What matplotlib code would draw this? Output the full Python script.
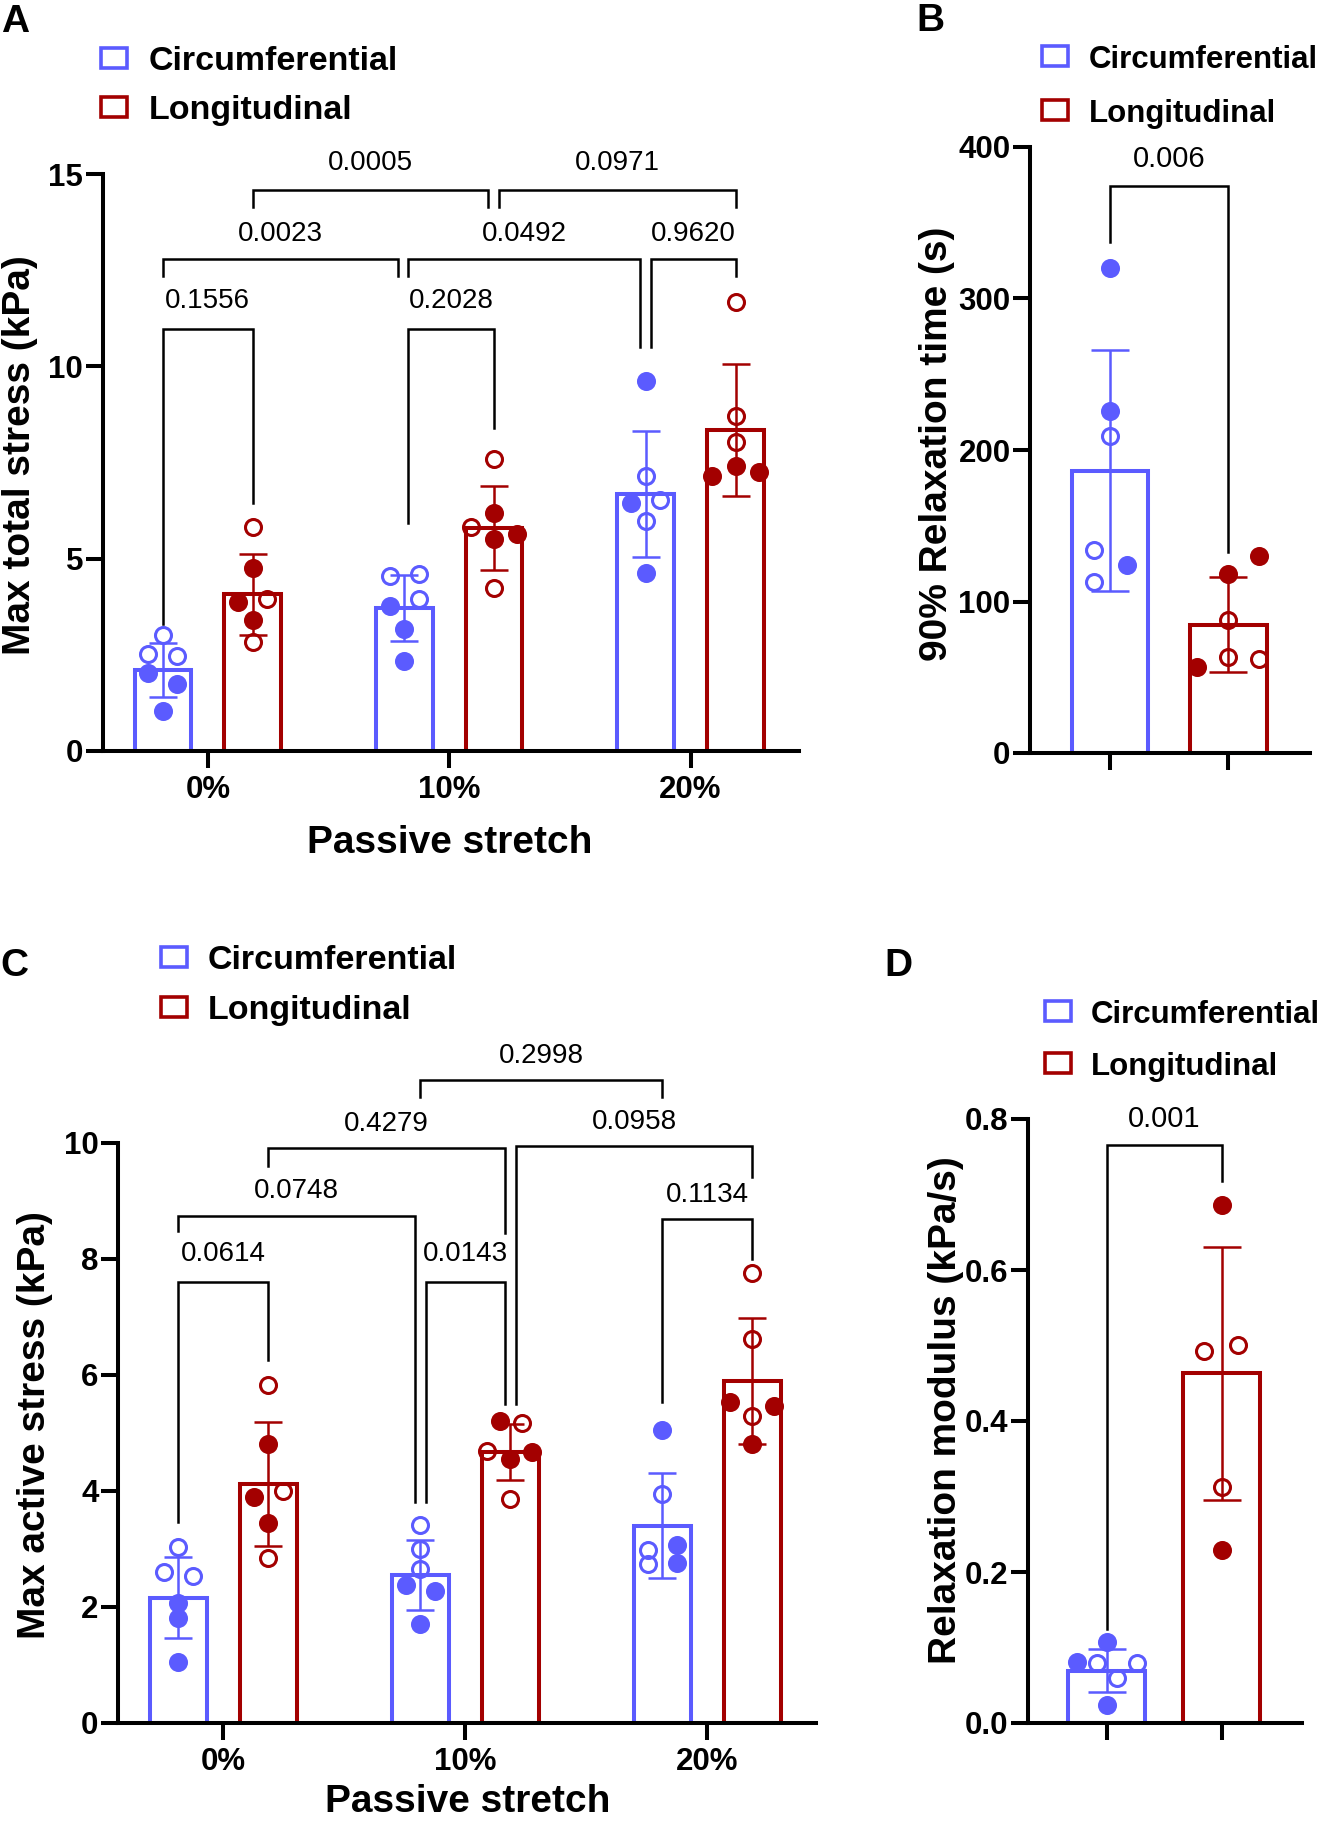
import matplotlib
matplotlib.use('Agg')
import matplotlib.pyplot as plt
from matplotlib.patches import Rectangle

plt.rcParams['font.family'] = ['Liberation Sans', 'DejaVu Sans']

# ---------------- data ----------------
stretch_labels = ['0%', '10%', '20%']
series_names = ['Circumferential', 'Longitudinal']

# Panel A: Max total stress (kPa)
A_circ_mean = [2.11, 3.71, 6.69]
A_circ_sd = [0.70, 0.86, 1.64]
A_long_mean = [4.07, 5.80, 8.35]
A_long_sd = [1.05, 1.10, 1.71]
A_circ_pts = [[3.02, 2.53, 2.47, 2.03, 1.75, 1.03],
              [4.54, 4.61, 3.76, 3.95, 3.18, 2.34],
              [9.61, 7.14, 6.44, 6.53, 5.98, 4.63]]
A_circ_filled = [[0, 0, 0, 1, 1, 1], [0, 0, 1, 0, 1, 1], [1, 0, 1, 0, 0, 1]]
A_long_pts = [[5.82, 4.77, 3.87, 3.94, 3.40, 2.84],
              [7.60, 6.19, 5.82, 5.64, 5.52, 4.23],
              [11.67, 8.71, 8.04, 7.42, 7.16, 7.25]]
A_long_filled = [[0, 1, 1, 0, 1, 0], [0, 1, 0, 1, 1, 0], [0, 0, 0, 1, 1, 1]]
A_pvals = ['0.1556', '0.2028', '0.0023', '0.0492', '0.9620', '0.0005', '0.0971']

# Panel B: 90% relaxation time (s)
B_mean = [186.4, 84.8]
B_sd = [79.5, 31.3]
B_circ_pts = [320, 226, 209.5, 134, 124, 112.7]
B_circ_filled = [1, 1, 0, 0, 1, 0]
B_long_pts = [118, 130, 87.6, 57, 63.4, 62]
B_long_filled = [1, 1, 0, 1, 0, 0]
B_pval = '0.006'

# Panel C: Max active stress (kPa)
C_circ_mean = [2.16, 2.55, 3.40]
C_circ_sd = [0.70, 0.60, 0.91]
C_long_mean = [4.12, 4.67, 5.89]
C_long_sd = [1.07, 0.49, 1.09]
C_circ_pts = [[3.03, 2.61, 2.53, 2.07, 1.81, 1.05],
              [3.42, 2.99, 2.65, 2.37, 2.27, 1.71],
              [5.04, 3.94, 2.98, 3.07, 2.74, 2.76]]
C_circ_filled = [[0, 0, 0, 1, 1, 1], [0, 0, 0, 1, 1, 1], [1, 0, 0, 1, 0, 1]]
C_long_pts = [[5.83, 4.80, 3.90, 4.00, 3.44, 2.84],
              [5.21, 5.17, 4.69, 4.55, 4.67, 3.86],
              [7.76, 6.61, 5.53, 5.46, 5.29, 4.80]]
C_long_filled = [[0, 1, 1, 0, 1, 0], [1, 0, 0, 1, 1, 0], [0, 0, 1, 1, 0, 1]]
C_pvals = ['0.0614', '0.0143', '0.1134', '0.0748', '0.4279', '0.0958', '0.2998']

# Panel D: Relaxation modulus (kPa/s)
D_mean = [0.0695, 0.463]
D_sd = [0.028, 0.168]
D_circ_pts = [0.107, 0.081, 0.079, 0.059, 0.080, 0.024]
D_circ_filled = [1, 1, 0, 0, 0, 1]
D_long_pts = [0.686, 0.493, 0.501, 0.312, 0.229]
D_long_filled = [1, 0, 0, 0, 1]
D_pval = '0.001'

# ---------------- styling / layout ----------------
W, H = 1326, 1823
BLUE = '#5B5BFF'
RED = '#A30000'
COLORS = [BLUE, RED]
OFF = [-0.186, 0.186]
JU = 0.06  # jitter unit for grouped panels
A_circ_jit = [[0, -1, 1, -1, 1, 0], [-1, 1, -1, 1, 0, 0], [0, 0, -1, 1, 0, 0]]
A_long_jit = [[0, 0, -1, 1, 0, 0], [0, 0, -1.6, 1.6, 0, 0], [0, 0, 0, 0, -1.6, 1.6]]
C_circ_jit = [[0, -1, 1, 0, 0, 0], [0, 0, 0, -1, 1, 0], [0, 0, -1, 1, -1, 1]]
C_long_jit = [[0, 0, -1, 1, 0, 0], [-0.7, 0.8, -1.6, 0, 1.5, 0], [0, 0, -1.5, 1.5, 0, 0]]
B_circ_jit = [0, 0, 0, -0.14, 0.14, -0.14]
B_long_jit = [0, 0.26, 0, -0.27, 0, 0.26]
D_circ_jit = [0, -0.26, -0.086, 0.086, 0.265, 0]
D_long_jit = [0, -0.15, 0.145, 0, 0]

MS, MEW = 11.5, 2.2
BAR_LW, ERR_LW, BR_LW = 2.9, 1.8, 1.8
SPINE_LW = 2.9

fig = plt.figure(figsize=(W / 100, H / 100), dpi=100)


def add_ax(left, right, top, bottom):
    return fig.add_axes([left / W, 1 - bottom / H, (right - left) / W, (bottom - top) / H])


def style_ax(ax, yticks, ylabels, xticks, xlabels):
    for s in ['top', 'right']:
        ax.spines[s].set_visible(False)
    for s in ['left', 'bottom']:
        ax.spines[s].set_linewidth(SPINE_LW)
    ax.set_yticks(yticks, labels=ylabels, fontsize=22.5, fontweight='bold')
    ax.set_xticks(xticks, labels=xlabels, fontsize=22.5, fontweight='bold')
    ax.tick_params(axis='y', length=12, width=SPINE_LW, pad=2)
    ax.tick_params(axis='x', length=12, width=SPINE_LW, pad=5)
    ax.patch.set_alpha(0)


def draw_points(ax, x, pts, filled, jit, color):
    for v, f, j in zip(pts, filled, jit):
        ax.plot(x + j, v, 'o', ms=MS, mew=MEW, mec=color,
                mfc=color if f else 'none', zorder=4, clip_on=False)


def draw_bar(ax, x, mean, sd, width, color, capsize):
    ax.bar(x, mean, width=width, facecolor='white', edgecolor=color,
           linewidth=BAR_LW, zorder=2)
    ax.errorbar(x, mean, yerr=sd, color=color, lw=ERR_LW, capsize=capsize,
                capthick=ERR_LW, zorder=3)


def bracket(ax, x1, x2, y, e1, e2, text, ty, fs=20):
    ax.plot([x1, x1, x2, x2], [e1, y, y, e2], color='black', lw=BR_LW,
            clip_on=False, zorder=5, solid_joinstyle='miter')
    ax.text((x1 + x2) / 2, ty, text, ha='center', va='center', fontsize=fs,
            clip_on=False)


def grouped(ax, cm, csd, cp, cf, cj, lm, lsd, lp, lf, lj):
    for g in range(3):
        series = [(cm, csd, cp, cf, cj), (lm, lsd, lp, lf, lj)]
        for s, (m, sd, p, f, j) in enumerate(series):
            x = g + OFF[s]
            draw_bar(ax, x, m[g], sd[g], 0.235, COLORS[s], 10)
            draw_points(ax, x, p[g], f[g], [v * JU for v in j[g]], COLORS[s])


def pos(g, s):
    return g + OFF[s]


def legend(box_cx, ys, text_x, fs):
    for y, color, name in zip(ys, COLORS, series_names):
        r = Rectangle(((box_cx - 13) / W, 1 - (y + 10) / H), 26 / W, 20 / H,
                      transform=fig.transFigure, facecolor='white',
                      edgecolor=color, lw=2.6)
        fig.add_artist(r)
        fig.text(text_x / W, 1 - (y + 12) / H, name, fontsize=fs,
                 fontweight='bold', ha='left', va='baseline')


def ftext(x, y, s, **kw):
    fig.text(x / W, 1 - y / H, s, **kw)


# ---------------- Panel A ----------------
axA = add_ax(102.6, 799, 174, 751)
grouped(axA, A_circ_mean, A_circ_sd, A_circ_pts, A_circ_filled, A_circ_jit,
        A_long_mean, A_long_sd, A_long_pts, A_long_filled, A_long_jit)
axA.set_xlim(-0.436, 2.449)
axA.set_ylim(0, 15)
style_ax(axA, [0, 5, 10, 15], ['0', '5', '10', '15'], [0, 1, 2], stretch_labels)
bracket(axA, pos(0, 0), pos(0, 1), 10.98, 3.3, 6.44, A_pvals[0], 11.70)
bracket(axA, pos(1, 0) + 0.017, pos(1, 1), 10.98, 5.93, 8.40, A_pvals[1], 11.70)
bracket(axA, pos(0, 0), pos(1, 0) - 0.025, 12.78, 12.34, 12.34, A_pvals[2], 13.45)
bracket(axA, pos(1, 0) + 0.017, pos(2, 0) - 0.025, 12.78, 12.34, 10.5, A_pvals[3], 13.45)
bracket(axA, pos(2, 0) + 0.021, pos(2, 1), 12.78, 10.5, 12.34, A_pvals[4], 13.45)
bracket(axA, pos(0, 1), pos(1, 1) - 0.025, 14.59, 14.14, 14.14, A_pvals[5], 15.28)
bracket(axA, pos(1, 1) + 0.021, pos(2, 1), 14.59, 14.14, 14.14, A_pvals[6], 15.28)

# ---------------- Panel B ----------------
axB = add_ax(1030, 1310, 147, 753)
draw_bar(axB, 0, B_mean[0], B_sd[0], 0.645, BLUE, 14)
draw_bar(axB, 1, B_mean[1], B_sd[1], 0.645, RED, 14)
draw_points(axB, 0, B_circ_pts, B_circ_filled, B_circ_jit, BLUE)
draw_points(axB, 1, B_long_pts, B_long_filled, B_long_jit, RED)
axB.set_xlim(-0.68, 1.69)
axB.set_ylim(0, 400)
style_ax(axB, [0, 100, 200, 300, 400], ['0', '100', '200', '300', '400'], [0, 1], ['', ''])
bracket(axB, 0, 1, 374, 337, 133, B_pval, 392, fs=21)

# ---------------- Panel C ----------------
axC = add_ax(118, 816, 1142.6, 1723)
grouped(axC, C_circ_mean, C_circ_sd, C_circ_pts, C_circ_filled, C_circ_jit,
        C_long_mean, C_long_sd, C_long_pts, C_long_filled, C_long_jit)
axC.set_xlim(-0.435, 2.45)
axC.set_ylim(0, 10)
style_ax(axC, [0, 2, 4, 6, 8, 10], ['0', '2', '4', '6', '8', '10'], [0, 1, 2], stretch_labels)
bracket(axC, pos(0, 0), pos(0, 1), 7.59, 3.46, 6.25, C_pvals[0], 8.08)
bracket(axC, pos(1, 0) + 0.026, pos(1, 1) - 0.022, 7.59, 3.80, 5.49, C_pvals[1], 8.08)
bracket(axC, pos(2, 0), pos(2, 1), 8.69, 5.53, 7.99, C_pvals[2], 9.09)
bracket(axC, pos(0, 0), pos(1, 0) - 0.022, 8.74, 8.47, 3.80, C_pvals[3], 9.17)
bracket(axC, pos(0, 1), pos(1, 1) - 0.022, 9.90, 9.60, 8.45, C_pvals[4], 10.32)
bracket(axC, pos(1, 1) + 0.026, pos(2, 1), 9.95, 5.49, 9.41, C_pvals[5], 10.35)
bracket(axC, pos(1, 0), pos(2, 0), 11.08, 10.78, 10.78, C_pvals[6], 11.50)

# ---------------- Panel D ----------------
axD = add_ax(1028, 1302, 1119, 1723)
draw_bar(axD, 0, D_mean[0], D_sd[0], 0.67, BLUE, 14)
draw_bar(axD, 1, D_mean[1], D_sd[1], 0.67, RED, 14)
draw_points(axD, 0, D_circ_pts, D_circ_filled, D_circ_jit, BLUE)
draw_points(axD, 1, D_long_pts, D_long_filled, D_long_jit, RED)
axD.set_xlim(-0.687, 1.70)
axD.set_ylim(0, 0.8)
style_ax(axD, [0, 0.2, 0.4, 0.6, 0.8], ['0.0', '0.2', '0.4', '0.6', '0.8'], [0, 1], ['', ''])
bracket(axD, 0, 1, 0.766, 0.125, 0.718, D_pval, 0.80, fs=21)

# ---------------- labels, legends, panel letters ----------------
lab = dict(fontsize=28, fontweight='bold', rotation=90, ha='center', va='center')
ftext(20, 455, 'Max total stress (kPa)', **lab)
ftext(937, 444, '90% Relaxation time (s)', **lab)
ftext(35, 1425, 'Max active stress (kPa)', **lab)
ftext(946, 1410, 'Relaxation modulus (kPa/s)', **lab)

ftext(450, 853, 'Passive stretch', fontsize=28, fontweight='bold', ha='center', va='baseline')
ftext(468, 1812, 'Passive stretch', fontsize=28, fontweight='bold', ha='center', va='baseline')

legend(114, [58, 107], 149, 24.5)
legend(1055, [56, 110], 1089, 22.5)
legend(174, [957, 1007], 208, 24.5)
legend(1058, [1011, 1063], 1091, 22.5)

letter = dict(fontsize=28, fontweight='bold', ha='center', va='baseline')
ftext(15, 32, 'A', **letter)
ftext(930, 31, 'B', **letter)
ftext(14, 976, 'C', **letter)
ftext(898, 976, 'D', **letter)

fig.savefig('out.png', dpi=100)
